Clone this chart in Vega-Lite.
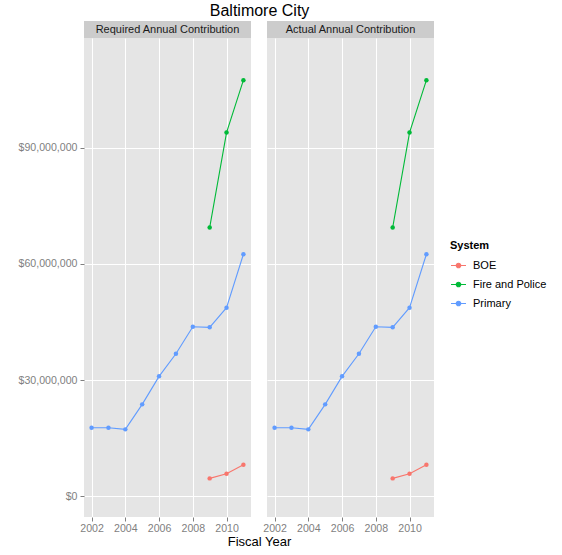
{
  "$schema": "https://vega.github.io/schema/vega-lite/v6.json",
  "padding": {"left": 18, "top": 3, "right": 5, "bottom": 5},
  "background": "white",
  "title": {"text": "Baltimore City", "fontSize": 16, "fontWeight": "normal", "font": "Liberation Sans", "color": "#000000", "anchor": "middle", "offset": 2, "dx": -23},
  "datasets": {
    "contrib": [
      {"panel": "Required Annual Contribution", "system": "Primary", "year": 2002, "value": 17660000},
      {"panel": "Required Annual Contribution", "system": "Primary", "year": 2003, "value": 17660000},
      {"panel": "Required Annual Contribution", "system": "Primary", "year": 2004, "value": 17250000},
      {"panel": "Required Annual Contribution", "system": "Primary", "year": 2005, "value": 23710000},
      {"panel": "Required Annual Contribution", "system": "Primary", "year": 2006, "value": 30950000},
      {"panel": "Required Annual Contribution", "system": "Primary", "year": 2007, "value": 36800000},
      {"panel": "Required Annual Contribution", "system": "Primary", "year": 2008, "value": 43780000},
      {"panel": "Required Annual Contribution", "system": "Primary", "year": 2009, "value": 43620000},
      {"panel": "Required Annual Contribution", "system": "Primary", "year": 2010, "value": 48700000},
      {"panel": "Required Annual Contribution", "system": "Primary", "year": 2011, "value": 62500000},
      {"panel": "Required Annual Contribution", "system": "BOE", "year": 2009, "value": 4580000},
      {"panel": "Required Annual Contribution", "system": "BOE", "year": 2010, "value": 5770000},
      {"panel": "Required Annual Contribution", "system": "BOE", "year": 2011, "value": 8100000},
      {"panel": "Required Annual Contribution", "system": "Fire and Police", "year": 2009, "value": 69400000},
      {"panel": "Required Annual Contribution", "system": "Fire and Police", "year": 2010, "value": 93960000},
      {"panel": "Required Annual Contribution", "system": "Fire and Police", "year": 2011, "value": 107500000},
      {"panel": "Actual Annual Contribution", "system": "Primary", "year": 2002, "value": 17660000},
      {"panel": "Actual Annual Contribution", "system": "Primary", "year": 2003, "value": 17660000},
      {"panel": "Actual Annual Contribution", "system": "Primary", "year": 2004, "value": 17250000},
      {"panel": "Actual Annual Contribution", "system": "Primary", "year": 2005, "value": 23710000},
      {"panel": "Actual Annual Contribution", "system": "Primary", "year": 2006, "value": 30950000},
      {"panel": "Actual Annual Contribution", "system": "Primary", "year": 2007, "value": 36800000},
      {"panel": "Actual Annual Contribution", "system": "Primary", "year": 2008, "value": 43780000},
      {"panel": "Actual Annual Contribution", "system": "Primary", "year": 2009, "value": 43620000},
      {"panel": "Actual Annual Contribution", "system": "Primary", "year": 2010, "value": 48700000},
      {"panel": "Actual Annual Contribution", "system": "Primary", "year": 2011, "value": 62500000},
      {"panel": "Actual Annual Contribution", "system": "BOE", "year": 2009, "value": 4580000},
      {"panel": "Actual Annual Contribution", "system": "BOE", "year": 2010, "value": 5770000},
      {"panel": "Actual Annual Contribution", "system": "BOE", "year": 2011, "value": 8100000},
      {"panel": "Actual Annual Contribution", "system": "Fire and Police", "year": 2009, "value": 69400000},
      {"panel": "Actual Annual Contribution", "system": "Fire and Police", "year": 2010, "value": 93960000},
      {"panel": "Actual Annual Contribution", "system": "Fire and Police", "year": 2011, "value": 107500000}
    ],
    "strips": [
      {"panel": "Required Annual Contribution"},
      {"panel": "Actual Annual Contribution"}
    ]
  },
  "columns": 2,
  "spacing": {"row": 0, "column": 16},
  "bounds": "flush",
  "concat": [
    {
      "width": 167, "height": 17,
      "view": {"fill": "#CCCCCC", "stroke": null},
      "data": {"name": "strips"},
      "transform": [{"filter": "datum.panel === 'Required Annual Contribution'"}],
      "mark": {"type": "text", "fontSize": 11, "font": "Liberation Sans", "color": "#1A1A1A", "baseline": "middle"},
      "encoding": {"text": {"field": "panel", "type": "nominal"}}
    },
    {
      "width": 167, "height": 17,
      "view": {"fill": "#CCCCCC", "stroke": null},
      "data": {"name": "strips"},
      "transform": [{"filter": "datum.panel === 'Actual Annual Contribution'"}],
      "mark": {"type": "text", "fontSize": 11, "font": "Liberation Sans", "color": "#1A1A1A", "baseline": "middle"},
      "encoding": {"text": {"field": "panel", "type": "nominal"}}
    },
    {
      "width": 167, "height": 479,
      "data": {"name": "contrib"},
      "transform": [{"filter": "datum.panel === 'Required Annual Contribution'"}],
      "mark": {"type": "line", "strokeWidth": 1.1, "point": {"filled": true, "size": 20, "opacity": 1}},
      "encoding": {
        "x": {"field": "year", "type": "quantitative", "scale": {"domain": [2001.55, 2011.45], "nice": false, "zero": false},
              "axis": {"values": [2002, 2004, 2006, 2008, 2010], "format": "d", "title": "Fiscal Year", "titleX": 175, "titleAlign": "center", "titleAnchor": null}},
        "y": {"field": "value", "type": "quantitative", "scale": {"domain": [-5400000, 118400000], "nice": false, "zero": false},
              "axis": {"values": [0, 30000000, 60000000, 90000000], "format": "$,.0f", "title": null}},
        "color": {"field": "system", "type": "nominal", "scale": {"domain": ["BOE", "Fire and Police", "Primary"], "range": ["#F8766D", "#00BA38", "#619CFF"]}, "title": "System"}
      }
    },
    {
      "width": 167, "height": 479,
      "data": {"name": "contrib"},
      "transform": [{"filter": "datum.panel === 'Actual Annual Contribution'"}],
      "mark": {"type": "line", "strokeWidth": 1.1, "point": {"filled": true, "size": 20, "opacity": 1}},
      "encoding": {
        "x": {"field": "year", "type": "quantitative", "scale": {"domain": [2001.55, 2011.45], "nice": false, "zero": false},
              "axis": {"values": [2002, 2004, 2006, 2008, 2010], "format": "d", "title": null}},
        "y": {"field": "value", "type": "quantitative", "scale": {"domain": [-5400000, 118400000], "nice": false, "zero": false},
              "axis": {"values": [0, 30000000, 60000000, 90000000], "labels": false, "ticks": false, "title": null}},
        "color": {"field": "system", "type": "nominal", "scale": {"domain": ["BOE", "Fire and Police", "Primary"], "range": ["#F8766D", "#00BA38", "#619CFF"]}, "title": "System"}
      }
    }
  ],
  "config": {
    "font": "Liberation Sans",
    "view": {"fill": "#E5E5E5", "stroke": null},
    "axis": {
      "domain": false,
      "grid": true,
      "gridColor": "#FFFFFF",
      "gridWidth": 1,
      "tickColor": "#7F7F7F",
      "tickSize": 4,
      "labelColor": "#7F7F7F",
      "labelFontSize": 10.6,
      "labelFont": "Liberation Sans",
      "labelPadding": 3,
      "titleFont": "Liberation Sans",
      "titleFontSize": 13,
      "titleFontWeight": "normal",
      "titleColor": "#000000",
      "titlePadding": 2
    },
    "axisX": {"labelPadding": 2},
    "legend": {
      "orient": "none",
      "legendX": 366,
      "legendY": 219,
      "titleFontSize": 11,
      "titleFontWeight": "bold",
      "titleFont": "Liberation Sans",
      "titleColor": "#000000",
      "titlePadding": 6,
      "labelFontSize": 11,
      "labelFont": "Liberation Sans",
      "labelColor": "#000000",
      "labelOffset": 6,
      "symbolType": "M-1,0L1,0M-0.3,0A0.3,0.3,0,1,1,0.3,0A0.3,0.3,0,1,1,-0.3,0",
      "symbolSize": 225,
      "symbolStrokeWidth": 1.2,
      "rowPadding": 5
    }
  }
}
